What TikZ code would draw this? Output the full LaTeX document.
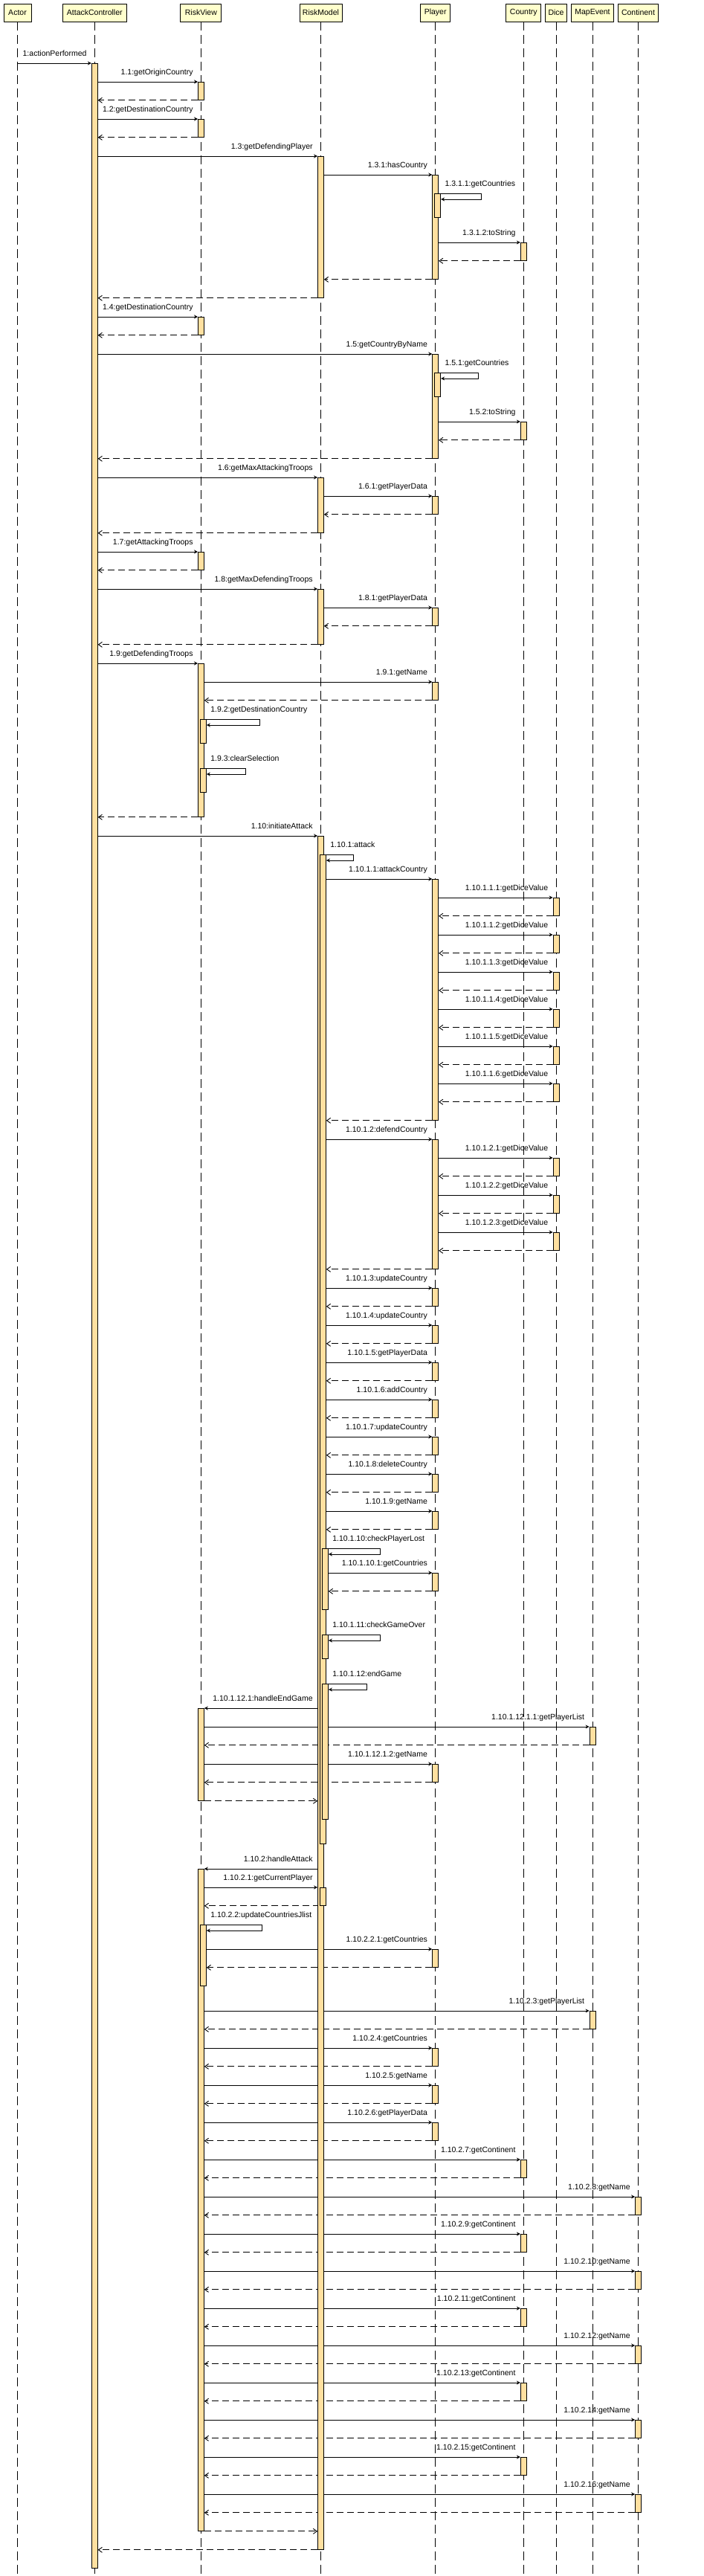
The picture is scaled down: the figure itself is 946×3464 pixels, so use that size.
\documentclass[tikz,border=0pt]{standalone}
\usepackage{fontspec}
\setmainfont{Liberation Sans}
\usetikzlibrary{calc,arrows.meta}
\pgfdeclarelayer{background}
\pgfsetlayers{background,main}
\definecolor{headfill}{RGB}{255,255,204}
\definecolor{actfill}{RGB}{255,224,160}

\tikzset{
  head/.style={draw, fill=headfill, minimum height=24pt, inner sep=0pt, line width=0.9pt, font=\fontsize{10.5}{13}\selectfont},
  life/.style={dash pattern=on 12pt off 6pt, line width=0.8pt},
  act/.style={draw, fill=actfill, minimum width=8pt, inner sep=0pt, anchor=north, line width=0.8pt},
  call/.style={line width=0.9pt, -{Stealth[length=5pt,width=5pt]}},
  ret/.style={line width=0.9pt, dash pattern=on 9pt off 5pt, -{Straight Barb[length=5pt,width=7pt]}},
  lbl/.style={font=\fontsize{10.5}{13}\selectfont, inner sep=0pt},
}

% activation bar: name, lifeline, shift, top, height
\newcommand{\actbar}[5]{\node[act, minimum height=#5pt] (#1) at ($(#2 |- 0,#4)+(#3,0)$) {};}
% calls and returns between bars
\newcommand{\msgR}[3]{\draw[call] (#1.east |- #2.north) -- (#2.north west) node[lbl, anchor=base east, xshift=-6pt, yshift=10pt] {#3};}
\newcommand{\msgL}[3]{\draw[call] (#1.west |- #2.north) node[lbl, anchor=base east, xshift=-6pt, yshift=10pt] {#3} -- (#2.north east);}
\newcommand{\backL}[2]{\draw[ret] (#1.south west) -- (#2.east |- #1.south);}
\newcommand{\backR}[2]{\draw[ret] (#1.south east) -- (#2.west |- #1.south);}
\newcommand{\msgSelf}[4]{\draw[call] (#1.east |- #2.north) node[lbl, anchor=base west, xshift=8pt, yshift=10pt] {#4} -- ++(#3pt,0) |- ($(#2.north east)+(0,8)$);}

\begin{document}
\begin{tikzpicture}[x=1pt, y=-1pt]
  \useasboundingbox (0,0) rectangle (946,3464);

  % lifelines
  \node[head, minimum width=37pt] (actor) at (23.5,17) {Actor};
  \node[head, minimum width=86pt] (ctrl) at (127.3,17) {AttackController};
  \node[head, minimum width=55pt] (view) at (270.4,17) {RiskView};
  \node[head, minimum width=57pt] (model) at (431.5,17) {RiskModel};
  \node[head, minimum width=40pt] (player) at (585.7,17) {Player};
  \node[head, minimum width=47pt] (country) at (704.3,17) {Country};
  \node[head, minimum width=29pt] (dice) at (748,17) {Dice};
  \node[head, minimum width=57pt] (mapev) at (797,17) {MapEvent};
  \node[head, minimum width=54pt] (cont) at (858.5,17) {Continent};

  \begin{pgfonlayer}{background}
    \foreach \n in {actor,ctrl,view,model,player,country,dice,mapev,cont}
      \draw[life] (\n.south) -- (\n |- 0,3464);
  \end{pgfonlayer}

  % activation bars
  \actbar{cA}{ctrl}{0}{85}{3368}
  \actbar{v1}{view}{0}{110}{24}
  \actbar{v2}{view}{0}{160}{24}
  \actbar{m3}{model}{0}{210}{190}
  \actbar{p31}{player}{0}{235}{140}
  \actbar{p311}{player}{3}{260}{32}
  \actbar{c312}{country}{0}{326}{24}
  \actbar{v4}{view}{0}{426}{24}
  \actbar{p5}{player}{0}{476}{140}
  \actbar{p51}{player}{3}{501}{32}
  \actbar{c52}{country}{0}{567}{24}
  \actbar{m6}{model}{0}{642}{74}
  \actbar{p61}{player}{0}{667}{24}
  \actbar{v7}{view}{0}{742}{24}
  \actbar{m8}{model}{0}{792}{74}
  \actbar{p81}{player}{0}{817}{24}
  \actbar{v9}{view}{0}{892}{206}
  \actbar{p91}{player}{0}{917}{24}
  \actbar{v92}{view}{3}{967}{32}
  \actbar{v93}{view}{3}{1033}{32}
  \actbar{mA}{model}{0}{1124}{2304}
  \actbar{mAtk}{model}{3}{1149}{1330}
  \actbar{pAtk}{player}{0}{1182}{324}
  \foreach \i/\y in {1/1207,2/1257,3/1307,4/1357,5/1407,6/1457}{
    \actbar{da\i}{dice}{0}{\y}{24}
  }
  \actbar{pDef}{player}{0}{1532}{174}
  \foreach \i/\y in {1/1557,2/1607,3/1657}{
    \actbar{dd\i}{dice}{0}{\y}{24}
  }
  \foreach \k/\y in {3/1732,4/1782,5/1832,6/1882,7/1932,8/1982,9/2032}{
    \actbar{pu\k}{player}{0}{\y}{24}
  }
  \actbar{mLost}{model}{6}{2082}{82}
  \actbar{pLost}{player}{0}{2115}{24}
  \actbar{mOver}{model}{6}{2198}{32}
  \actbar{mEnd}{model}{6}{2264}{182}
  \actbar{vEnd}{view}{0}{2297}{124}
  \actbar{mapEnd}{mapev}{0}{2322}{24}
  \actbar{pEnd}{player}{0}{2372}{24}
  \actbar{vAtk}{view}{0}{2513}{890}
  \actbar{mCur}{model}{3}{2538}{24}
  \actbar{vUpd}{view}{3}{2588}{82}
  \actbar{pUpd}{player}{0}{2621}{24}
  \actbar{map23}{mapev}{0}{2704}{24}
  \actbar{p24}{player}{0}{2754}{24}
  \actbar{p25}{player}{0}{2804}{24}
  \actbar{p26}{player}{0}{2854}{24}
  \foreach \a/\b/\y in {7/8/2904,9/10/3004,11/12/3104,13/14/3204,15/16/3304}{
    \actbar{c2\a}{country}{0}{\y}{24}
    \actbar{n2\b}{cont}{0}{\y+50}{24}
  }

  % messages
  \begin{pgfonlayer}{background}
  \draw[call] (actor |- cA.north) -- (cA.north west) node[lbl, anchor=base east, xshift=-6pt, yshift=10pt] {1:actionPerformed};
  \msgR{cA}{v1}{1.1:getOriginCountry} \backL{v1}{cA}
  \msgR{cA}{v2}{1.2:getDestinationCountry} \backL{v2}{cA}
  \msgR{cA}{m3}{1.3:getDefendingPlayer}
  \msgR{m3}{p31}{1.3.1:hasCountry}
  \msgSelf{p31}{p311}{57}{1.3.1.1:getCountries}
  \msgR{p31}{c312}{1.3.1.2:toString} \backL{c312}{p31}
  \backL{p31}{m3}
  \backL{m3}{cA}
  \msgR{cA}{v4}{1.4:getDestinationCountry} \backL{v4}{cA}
  \msgR{cA}{p5}{1.5:getCountryByName}
  \msgSelf{p5}{p51}{53}{1.5.1:getCountries}
  \msgR{p5}{c52}{1.5.2:toString} \backL{c52}{p5}
  \backL{p5}{cA}
  \msgR{cA}{m6}{1.6:getMaxAttackingTroops}
  \msgR{m6}{p61}{1.6.1:getPlayerData} \backL{p61}{m6}
  \backL{m6}{cA}
  \msgR{cA}{v7}{1.7:getAttackingTroops} \backL{v7}{cA}
  \msgR{cA}{m8}{1.8:getMaxDefendingTroops}
  \msgR{m8}{p81}{1.8.1:getPlayerData} \backL{p81}{m8}
  \backL{m8}{cA}
  \msgR{cA}{v9}{1.9:getDefendingTroops}
  \msgR{v9}{p91}{1.9.1:getName} \backL{p91}{v9}
  \msgSelf{v9}{v92}{75}{1.9.2:getDestinationCountry}
  \msgSelf{v9}{v93}{56}{1.9.3:clearSelection}
  \backL{v9}{cA}

  % attack
  \msgR{cA}{mA}{1.10:initiateAttack}
  \msgSelf{mA}{mAtk}{40}{1.10.1:attack}
  \msgR{mAtk}{pAtk}{1.10.1.1:attackCountry}
  \foreach \i in {1,...,6}{
    \msgR{pAtk}{da\i}{1.10.1.1.\i:getDiceValue} \backL{da\i}{pAtk}
  }
  \backL{pAtk}{mAtk}
  \msgR{mAtk}{pDef}{1.10.1.2:defendCountry}
  \foreach \i in {1,2,3}{
    \msgR{pDef}{dd\i}{1.10.1.2.\i:getDiceValue} \backL{dd\i}{pDef}
  }
  \backL{pDef}{mAtk}
  \foreach \k/\m in {3/updateCountry,4/updateCountry,5/getPlayerData,6/addCountry,7/updateCountry,8/deleteCountry,9/getName}{
    \msgR{mAtk}{pu\k}{1.10.1.\k:\m} \backL{pu\k}{mAtk}
  }
  \msgSelf{mAtk}{mLost}{73}{1.10.1.10:checkPlayerLost}
  \msgR{mLost}{pLost}{1.10.1.10.1:getCountries} \backL{pLost}{mLost}
  \msgSelf{mAtk}{mOver}{73}{1.10.1.11:checkGameOver}
  \msgSelf{mAtk}{mEnd}{55}{1.10.1.12:endGame}
  \msgL{mA}{vEnd}{1.10.1.12.1:handleEndGame}
  \msgR{vEnd}{mapEnd}{1.10.1.12.1.1:getPlayerList} \backL{mapEnd}{vEnd}
  \msgR{vEnd}{pEnd}{1.10.1.12.1.2:getName} \backL{pEnd}{vEnd}
  \backR{vEnd}{mA}

  % view update
  \msgL{mA}{vAtk}{1.10.2:handleAttack}
  \draw[call] (vAtk.east |- mCur.north) -- (mA.west |- mCur.north) node[lbl, anchor=base east, xshift=-6pt, yshift=10pt] {1.10.2.1:getCurrentPlayer};
  \backL{mCur}{vAtk}
  \msgSelf{vAtk}{vUpd}{78}{1.10.2.2:updateCountriesJlist}
  \msgR{vUpd}{pUpd}{1.10.2.2.1:getCountries} \backL{pUpd}{vUpd}
  \msgR{vAtk}{map23}{1.10.2.3:getPlayerList} \backL{map23}{vAtk}
  \msgR{vAtk}{p24}{1.10.2.4:getCountries} \backL{p24}{vAtk}
  \msgR{vAtk}{p25}{1.10.2.5:getName} \backL{p25}{vAtk}
  \msgR{vAtk}{p26}{1.10.2.6:getPlayerData} \backL{p26}{vAtk}
  \foreach \a/\b in {7/8,9/10,11/12,13/14,15/16}{
    \msgR{vAtk}{c2\a}{1.10.2.\a:getContinent} \backL{c2\a}{vAtk}
    \msgR{vAtk}{n2\b}{1.10.2.\b:getName} \backL{n2\b}{vAtk}
  }
  \backR{vAtk}{mA}
  \backL{mA}{cA}
  \end{pgfonlayer}
\end{tikzpicture}
\end{document}
